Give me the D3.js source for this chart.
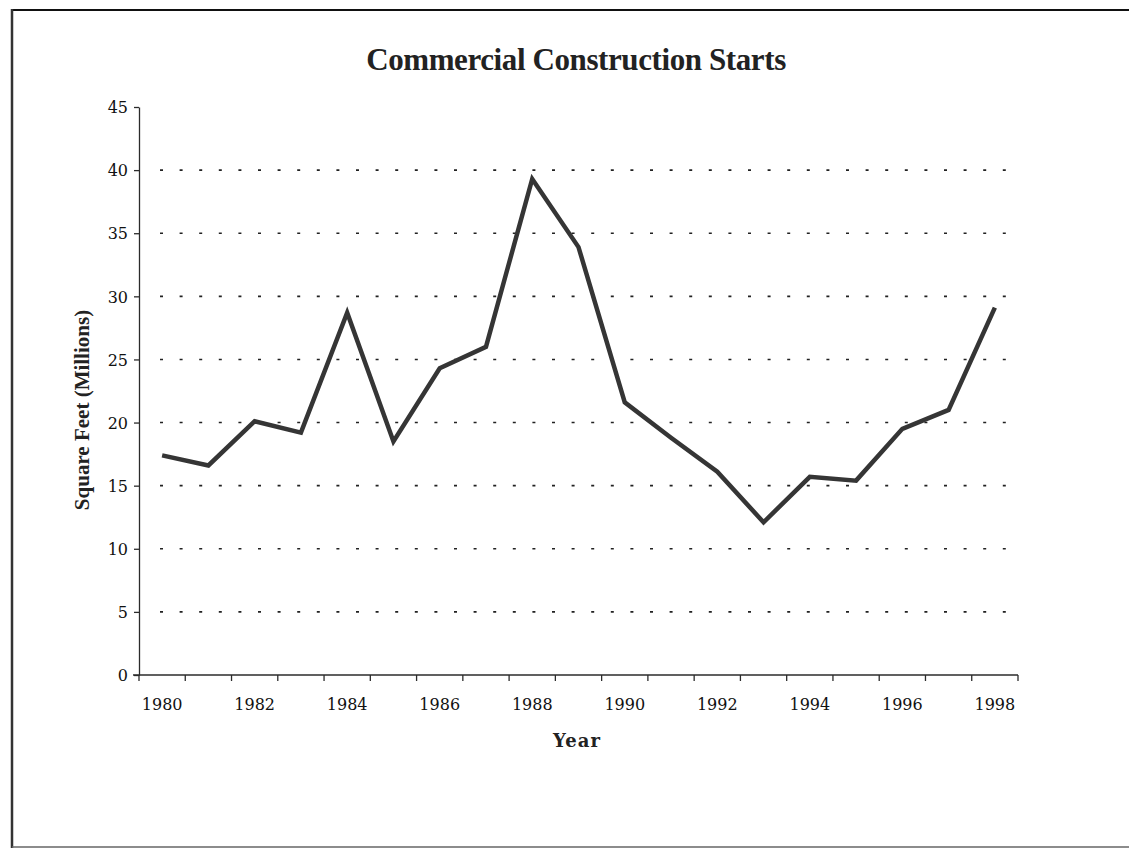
<!DOCTYPE html>
<html>
<head>
<meta charset="utf-8">
<script src="https://cdn.jsdelivr.net/npm/d3@7"></script>
<style>
  body { margin: 0; background: #fff; }
  svg { display: block; }
</style>
</head>
<body>
<svg width="1129" height="848"></svg>
<script>
// chart data
let years = ['1980', '1981', '1982', '1983', '1984', '1985', '1986', '1987', '1988', '1989',
    '1990', '1991', '1992', '1993', '1994', '1995', '1996', '1997', '1998'];
let squareFeet = [17.4, 16.6, 20.1, 19.2, 28.7, 18.5, 24.3, 26.0, 39.3, 33.9,
    21.6, 18.8, 16.1, 12.1, 15.7, 15.4, 19.5, 21.0, 29.1];
let yTicks = [0, 5, 10, 15, 20, 25, 30, 35, 40, 45];
let xLabels = ['1980', '1982', '1984', '1986', '1988', '1990', '1992', '1994', '1996', '1998'];

let svg = d3.select('svg');
let svgWidth = +svg.attr('width');
let svgHeight = +svg.attr('height');

let padding = {t: 107, r: 111, b: 173, l: 139};
let chartWidth = svgWidth - padding.l - padding.r;
let chartHeight = svgHeight - padding.t - padding.b;

let ink = '#2b2b2b';
let tickFont = 'DejaVu Serif';

// page frame (scanned sheet edges)
svg.append('line').attr('x1', 11).attr('x2', svgWidth).attr('y1', 10).attr('y2', 10)
    .attr('stroke', '#111').attr('stroke-width', 2);
svg.append('line').attr('x1', 12).attr('x2', 12).attr('y1', 9).attr('y2', svgHeight)
    .attr('stroke', '#333').attr('stroke-width', 2.5);
svg.append('line').attr('x1', 12).attr('x2', svgWidth).attr('y1', svgHeight - 1).attr('y2', svgHeight - 1)
    .attr('stroke', '#666').attr('stroke-width', 1.5);

let chartG = svg.append('g')
    .attr('transform', 'translate(' + [padding.l, padding.t] + ')');

let xScale = d3.scaleBand().domain(years).range([0, chartWidth]);
let yScale = d3.scaleLinear().domain([0, 45]).range([chartHeight, 0]);

// dotted gridlines
chartG.append('g')
    .attr('class', 'grid')
    .selectAll('line')
    .data(yTicks.filter(d => d > 0 && d < 45))
    .enter().append('line')
    .attr('x1', 21)
    .attr('x2', chartWidth)
    .attr('y1', d => yScale(d))
    .attr('y2', d => yScale(d))
    .attr('stroke', '#222')
    .attr('stroke-width', 1.6)
    .attr('stroke-dasharray', '3,16.6');

// y axis
let yAxis = chartG.append('g')
    .call(d3.axisLeft(yScale).tickValues(yTicks).tickSize(5).tickSizeOuter(0));
yAxis.select('.domain').attr('stroke', ink).attr('stroke-width', 1.3);
yAxis.selectAll('.tick line').attr('stroke', ink).attr('stroke-width', 1.3);
yAxis.selectAll('.tick text')
    .attr('x', -11)
    .attr('dy', '0.36em')
    .style('font-family', tickFont)
    .style('font-size', '16px')
    .attr('fill', '#111');

// x axis: ticks between categories
let xAxis = chartG.append('g')
    .attr('transform', 'translate(0,' + chartHeight + ')');
xAxis.append('line')
    .attr('x1', -6).attr('x2', chartWidth)
    .attr('stroke', ink).attr('stroke-width', 1.6);
xAxis.selectAll('.tickmark')
    .data(years.concat(['end']))
    .enter().append('line')
    .attr('class', 'tickmark')
    .attr('x1', d => d === 'end' ? chartWidth : xScale(d))
    .attr('x2', d => d === 'end' ? chartWidth : xScale(d))
    .attr('y1', 0).attr('y2', 6)
    .attr('stroke', ink).attr('stroke-width', 1.3);
xAxis.selectAll('.ticklabel')
    .data(xLabels)
    .enter().append('text')
    .attr('class', 'ticklabel')
    .attr('x', d => xScale(d) + xScale.bandwidth() / 2)
    .attr('y', 35)
    .attr('text-anchor', 'middle')
    .style('font-family', tickFont)
    .style('font-size', '16px')
    .attr('fill', '#111')
    .text(d => d);

// the data line
let line = d3.line()
    .x((d, i) => xScale(years[i]) + xScale.bandwidth() / 2)
    .y(d => yScale(d));

chartG.append('path')
    .datum(squareFeet)
    .attr('d', line)
    .attr('fill', 'none')
    .attr('stroke', '#353535')
    .attr('stroke-width', 4.5)
    .attr('stroke-linejoin', 'miter');

// title and axis labels
svg.append('text')
    .attr('x', 576)
    .attr('y', 70)
    .attr('text-anchor', 'middle')
    .style('font-family', 'Liberation Serif')
    .style('font-weight', 'bold')
    .style('font-size', '31px')
    .style('letter-spacing', '-0.4px')
    .attr('fill', '#222')
    .text('Commercial Construction Starts');

svg.append('text')
    .attr('transform', 'translate(89,410) rotate(-90)')
    .attr('text-anchor', 'middle')
    .style('font-family', 'Liberation Serif')
    .style('font-weight', 'bold')
    .style('font-size', '21px')
    .attr('fill', '#222')
    .text('Square Feet (Millions)');

svg.append('text')
    .attr('x', 577)
    .attr('y', 747)
    .attr('text-anchor', 'middle')
    .style('font-family', 'DejaVu Serif')
    .style('font-weight', 'bold')
    .style('font-size', '18px')
    .style('letter-spacing', '1px')
    .attr('fill', '#222')
    .text('Year');
</script>
</body>
</html>
